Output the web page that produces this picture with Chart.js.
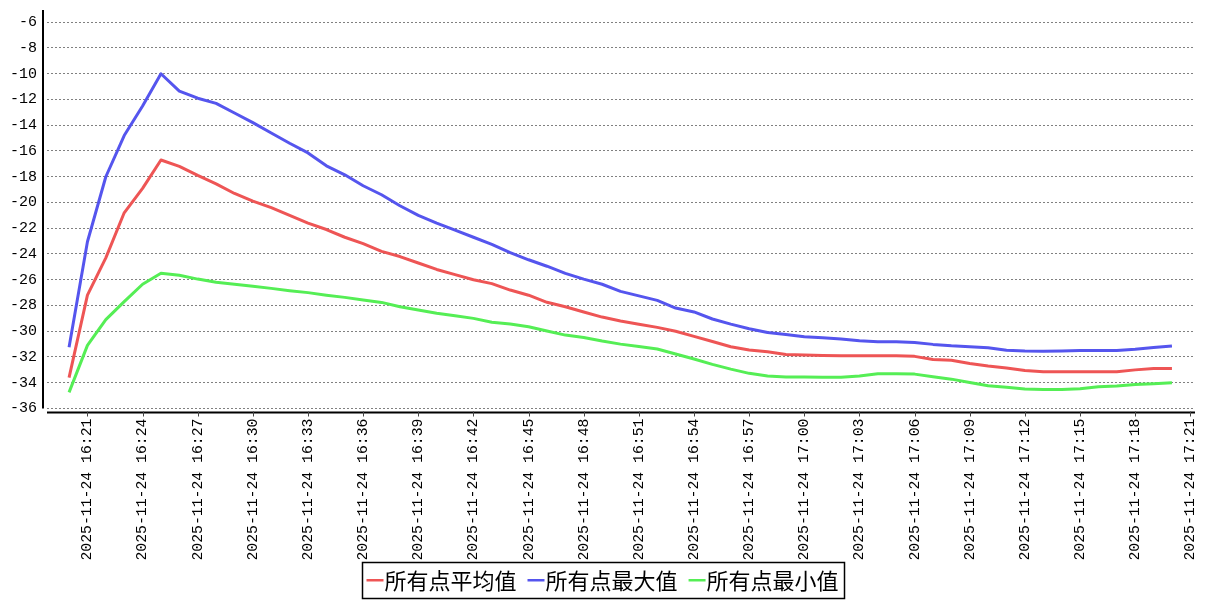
<!DOCTYPE html>
<html>
<head>
<meta charset="utf-8">
<script src="https://cdn.jsdelivr.net/npm/chart.js@4/dist/chart.umd.min.js"></script>
<style>
html,body{margin:0;padding:0;background:#fff;}
#wrap{position:relative;width:1207px;height:600px;}
</style>
</head>
<body>
<div id="wrap"><canvas id="c"></canvas></div>
<script>
const dateText = '2025-11-24';
const times = ['16:20','16:21','16:22','16:23','16:24','16:25','16:26','16:27','16:28','16:29',
  '16:30','16:31','16:32','16:33','16:34','16:35','16:36','16:37','16:38','16:39',
  '16:40','16:41','16:42','16:43','16:44','16:45','16:46','16:47','16:48','16:49',
  '16:50','16:51','16:52','16:53','16:54','16:55','16:56','16:57','16:58','16:59',
  '17:00','17:01','17:02','17:03','17:04','17:05','17:06','17:07','17:08','17:09',
  '17:10','17:11','17:12','17:13','17:14','17:15','17:16','17:17','17:18','17:19','17:20'];
const tickTimes = ['16:21','16:24','16:27','16:30','16:33','16:36','16:39','16:42','16:45','16:48',
  '16:51','16:54','16:57','17:00','17:03','17:06','17:09','17:12','17:15','17:18','17:21'];
const yTicks = [-36,-34,-32,-30,-28,-26,-24,-22,-20,-18,-16,-14,-12,-10,-8,-6];
const seriesNames = ['所有点平均值','所有点最大值','所有点最小值'];
const avgValues = [-33.6,-27.2,-24.3,-20.8,-18.9,-16.7,-17.2,-17.9,-18.55,-19.3,
  -19.9,-20.4,-21.0,-21.6,-22.1,-22.7,-23.2,-23.8,-24.2,-24.7,
  -25.2,-25.6,-26.0,-26.3,-26.8,-27.2,-27.75,-28.1,-28.5,-28.9,
  -29.2,-29.45,-29.7,-30.0,-30.4,-30.8,-31.2,-31.45,-31.6,-31.8,
  -31.85,-31.88,-31.9,-31.9,-31.9,-31.9,-31.95,-32.2,-32.25,-32.5,
  -32.7,-32.85,-33.05,-33.15,-33.15,-33.15,-33.15,-33.15,-33.0,-32.9,-32.9];
const maxValues = [-31.25,-23.05,-18.0,-14.8,-12.5,-10.0,-11.35,-11.9,-12.3,-13.05,
  -13.8,-14.6,-15.4,-16.15,-17.15,-17.85,-18.7,-19.4,-20.25,-21.0,
  -21.6,-22.15,-22.7,-23.25,-23.9,-24.45,-24.95,-25.5,-25.95,-26.35,
  -26.9,-27.25,-27.6,-28.2,-28.5,-29.05,-29.45,-29.8,-30.1,-30.25,
  -30.43,-30.5,-30.6,-30.74,-30.82,-30.82,-30.87,-31.02,-31.13,-31.2,
  -31.28,-31.48,-31.54,-31.56,-31.54,-31.5,-31.5,-31.5,-31.4,-31.26,-31.15];
const minValues = [-34.75,-31.1,-29.1,-27.7,-26.35,-25.5,-25.65,-25.95,-26.2,-26.35,
  -26.5,-26.67,-26.85,-27.0,-27.2,-27.37,-27.58,-27.76,-28.1,-28.35,
  -28.6,-28.8,-29.0,-29.3,-29.44,-29.65,-29.98,-30.3,-30.48,-30.76,
  -31.0,-31.18,-31.38,-31.77,-32.16,-32.57,-32.94,-33.27,-33.48,-33.56,
  -33.56,-33.57,-33.58,-33.48,-33.3,-33.3,-33.33,-33.53,-33.72,-33.98,
  -34.24,-34.35,-34.49,-34.52,-34.52,-34.47,-34.31,-34.26,-34.13,-34.08,-34.0];
const seriesColors = ['#ee5555','#5555ee','#55ee55'];

function toMin(t){ const p = t.split(':'); return (+p[0] - 16) * 60 + (+p[1]); }
function fromMin(m){ const h = 16 + Math.floor(m/60), mm = Math.round(m % 60); return h + ':' + String(mm).padStart(2,'0'); }
function pts(vals){ return vals.map((v,i) => ({x: toMin(times[i]), y: v})); }

function marker(color){
  const c = document.createElement('canvas');
  c.width = 30; c.height = 4;
  const g = c.getContext('2d');
  g.fillStyle = color;
  g.fillRect(12, 0, 17, 3);
  return c;
}
const markers = seriesColors.map(marker);

// layout targets for the plot area
const target = {left: 47, right: 1194, top: 10, bottom: 408.5};
let yWidth = 37;
let xHeight = 152;

const axisPlugin = {
  id: 'axisPlugin',
  afterDraw(chart){
    const {ctx, chartArea: a} = chart;
    ctx.save();
    ctx.strokeStyle = '#000';
    ctx.lineWidth = 2;
    ctx.beginPath();
    ctx.moveTo(a.left - 4, a.top); ctx.lineTo(a.left - 4, a.bottom);
    ctx.moveTo(a.left, a.bottom + 4); ctx.lineTo(a.right + 1, a.bottom + 4);
    ctx.stroke();
    ctx.lineWidth = 1;
    ctx.strokeStyle = '#444';
    const xs = chart.scales.x;
    ctx.beginPath();
    xs.ticks.forEach(t => {
      const px = Math.round(xs.getPixelForValue(t.value)) + 0.5;
      ctx.moveTo(px, a.bottom + 3); ctx.lineTo(px, a.bottom + 8);
    });
    ctx.stroke();
    const hb = chart.legend.legendHitBoxes;
    if (hb && hb.length){
      let l = Infinity, r = -Infinity, t = Infinity, b = -Infinity;
      hb.forEach(h => { l = Math.min(l, h.left); r = Math.max(r, h.left + h.width); t = Math.min(t, h.top); b = Math.max(b, h.top + h.height); });
      ctx.strokeStyle = '#000';
      ctx.lineWidth = 1.5;
      ctx.strokeRect(Math.round(l) - 2.5, Math.round(t) - 7.5, Math.round(r - l) + 9, Math.round(b - t) + 14);
    }
    ctx.restore();
  }
};

const chart = new Chart(document.getElementById('c'), {
  type: 'line',
  data: {
    datasets: [
      {label: seriesNames[0], data: pts(avgValues), borderColor: seriesColors[0], backgroundColor: seriesColors[0]},
      {label: seriesNames[1], data: pts(maxValues), borderColor: seriesColors[1], backgroundColor: seriesColors[1]},
      {label: seriesNames[2], data: pts(minValues), borderColor: seriesColors[2], backgroundColor: seriesColors[2]}
    ]
  },
  options: {
    responsive: true,
    maintainAspectRatio: false,
    animation: false,
    elements: {
      line: {borderWidth: 3, tension: 0, fill: false, borderJoinStyle: 'round'},
      point: {radius: 0, hoverRadius: 0}
    },
    layout: {padding: {left: 10, right: 13, top: 10, bottom: -1.5}},
    scales: {
      x: {
        type: 'linear',
        min: 18.8,
        max: 81.2,
        afterBuildTicks(scale){ scale.ticks = tickTimes.map(t => ({value: toMin(t)})); },
        afterFit(scale){ scale.height = xHeight; scale.paddingLeft = 0; scale.paddingRight = 0; },
        grid: {display: true, drawOnChartArea: false, drawTicks: false},
        border: {display: false},
        ticks: {
          autoSkip: false,
          maxRotation: 90, minRotation: 90,
          padding: 10,
          color: '#000',
          font: {family: '"Liberation Mono", monospace', size: 14.8},
          callback: (v) => dateText + ' ' + fromMin(v)
        }
      },
      y: {
        type: 'linear',
        min: -36,
        max: -5.05,
        afterBuildTicks(scale){ scale.ticks = yTicks.map(v => ({value: v})); },
        afterFit(scale){ scale.width = yWidth; scale.paddingTop = 0; scale.paddingBottom = 0; },
        grid: {color: '#808080', lineWidth: 1, drawTicks: false},
        border: {display: false, dash: [2, 2]},
        ticks: {
          padding: 10,
          color: '#000',
          font: {family: '"Liberation Mono", monospace', size: 15}
        }
      }
    },
    plugins: {
      tooltip: {enabled: false},
      legend: {
        position: 'bottom',
        labels: {
          usePointStyle: true,
          pointStyleWidth: 8,
          boxHeight: 3,
          padding: 10,
          color: '#000',
          font: {family: '"Noto Sans CJK SC", sans-serif', size: 22},
          generateLabels(c){
            const items = Chart.defaults.plugins.legend.labels.generateLabels(c);
            items.forEach((it, i) => { it.pointStyle = markers[i]; });
            return items;
          }
        }
      }
    }
  },
  plugins: [axisPlugin]
});

// fine-tune the plot area to the reference frame
for (let k = 0; k < 3; k++){
  const a = chart.chartArea;
  const p = chart.options.layout.padding;
  const dl = target.left - a.left, dt = target.top - a.top, dr = a.right - target.right, db = a.bottom - target.bottom;
  if (Math.abs(dl) < 0.3 && Math.abs(dt) < 0.3 && Math.abs(dr) < 0.3 && Math.abs(db) < 0.3) break;
  p.left += dl; p.top += dt; p.right += dr; xHeight += db;
  chart.update('none');
}
</script>
</body>
</html>
